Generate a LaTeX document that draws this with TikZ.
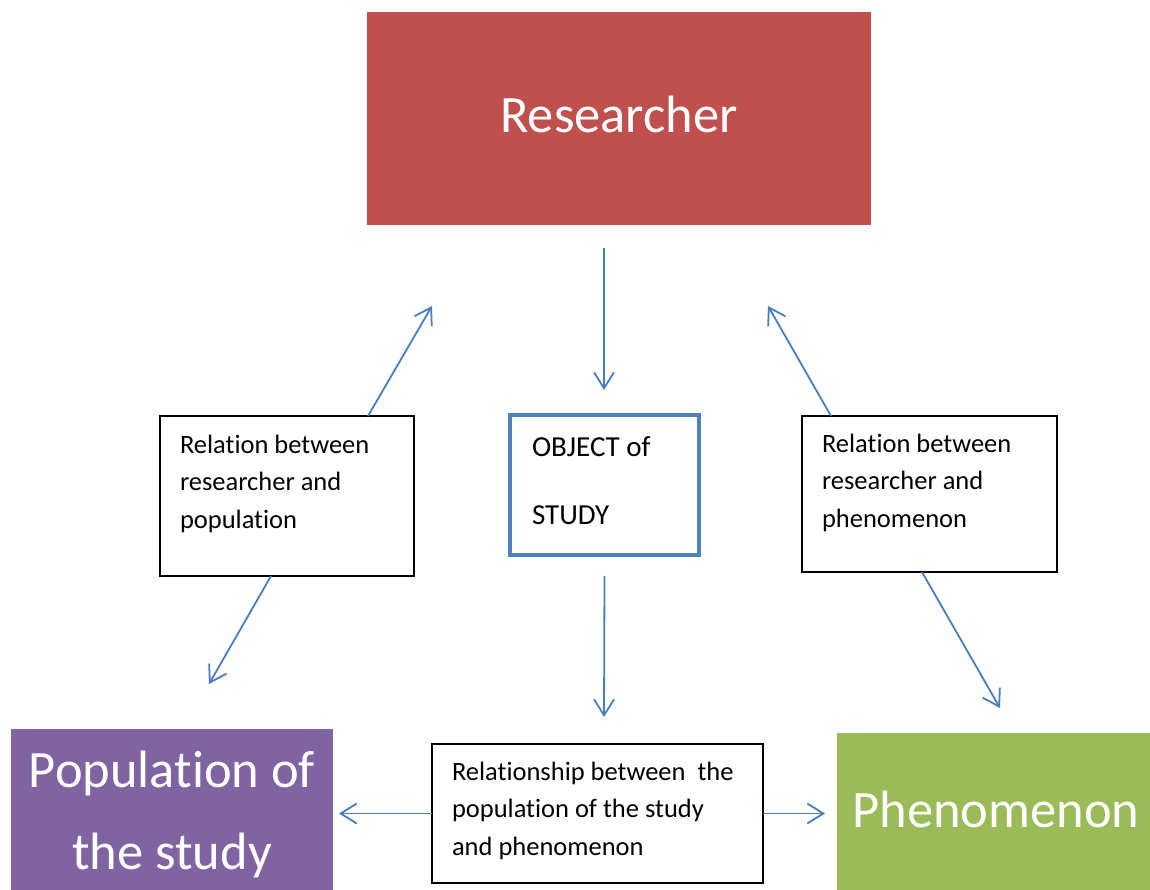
\documentclass[tikz,border=0pt]{standalone}
\usepackage{fontspec}
\setmainfont{Carlito}[Ligatures=NoCommon,RawFeature=-liga]
\usetikzlibrary{arrows.meta}
\definecolor{resred}{HTML}{C0504D}
\definecolor{popviolet}{HTML}{8064A2}
\definecolor{phengreen}{HTML}{9BBB59}
\definecolor{objblue}{HTML}{4F81BD}
\definecolor{arrowblue}{HTML}{4A7EBB}
\newcommand{\smallfnt}{\fontsize{26.5}{37.5}\selectfont}
\newcommand{\bigfnt}{\fontsize{52.5}{82}\selectfont}
\tikzset{
  fillbox/.style={anchor=north west, inner sep=0pt, outer sep=0pt, text=white, draw=none},
  relbox/.style={anchor=north west, draw=black, line width=1.6pt, inner xsep=20pt, inner ysep=0pt, outer sep=0pt, fill=white},
  objbox/.style={anchor=north west, draw=objblue, line width=4pt, inner xsep=22pt, inner ysep=0pt, outer sep=0pt, fill=white},
  conn/.style={draw=arrowblue, line width=1.8pt, -{Straight Barb[length=16pt,width=20pt]}}
}
\begin{document}
\begin{tikzpicture}[x=1pt,y=-1pt]
\useasboundingbox (0,0) rectangle (1150,890);
% main boxes
\node[fillbox, fill=resred] (R) at (367,12)
  {\parbox[c][213pt][t]{504pt}{\centering\bigfnt\rule{0pt}{121pt}Researcher}};
\node[fillbox, fill=popviolet] (P) at (11,729)
  {\parbox[c][161pt][t]{322pt}{\centering\bigfnt\rule{0pt}{58pt}Population of\\the study}};
\node[fillbox, fill=phengreen] (H) at (837,733)
  {\parbox[c][157pt][t]{313pt}{\centering\bigfnt\rule{0pt}{94pt}\hspace*{5pt}Phenomenon}};
% object box
\node[objbox] (O) at (510,415)
  {\parbox[c][140pt][t]{145pt}{\raggedright\fontsize{29}{68}\selectfont\rule{0pt}{41pt}OBJECT of\\STUDY}};
% relation boxes
\node[relbox] (L) at (160,416)
  {\parbox[c][160pt][t]{214pt}{\raggedright\smallfnt\rule{0pt}{37pt}Relation between\\researcher and\\population}};
\node[relbox] (Q) at (802,416)
  {\parbox[c][156pt][t]{215pt}{\raggedright\smallfnt\rule{0pt}{36pt}Relation between\\researcher and\\phenomenon}};
\node[relbox] (B) at (432,744)
  {\parbox[c][139pt][t]{291pt}{\raggedright\smallfnt\rule{0pt}{36pt}Relationship between\ \ the\\population of the study\\and phenomenon}};
% free ends
\coordinate (r0) at (604,248);
\coordinate (r1) at (604,390);
\coordinate (lu) at (432,306);
\coordinate (ld) at (209,684);
\coordinate (qu) at (768,306);
\coordinate (qd) at (1000,708);
\coordinate (o1) at (604,717);
\coordinate (bl) at (339,813.5);
\coordinate (br) at (825,813.5);
% connectors
\draw[conn] (r0) -- (r1);
\draw[conn] ([xshift=208pt]L.north west) -- (lu);
\draw[conn] ([xshift=111pt]L.south west) -- (ld);
\draw[conn] ([xshift=29pt]Q.north west) -- (qu);
\draw[conn] ([xshift=120pt]Q.south west) -- (qd);
\draw[conn] ([yshift=-21pt]O.south) -- (o1);
\draw[conn] (B.west) -- (bl);
\draw[conn] (B.east) -- (br);
\end{tikzpicture}
\end{document}
